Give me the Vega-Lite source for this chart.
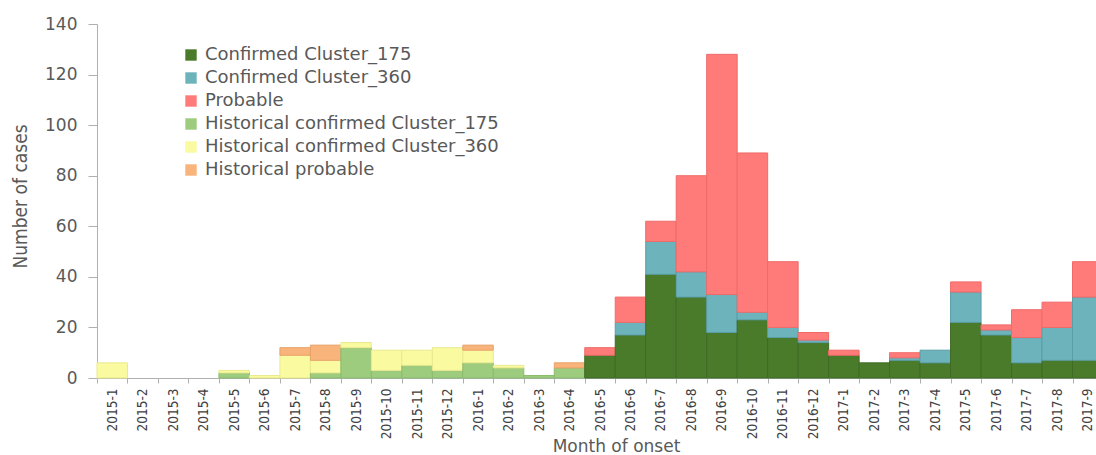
{
  "$schema": "https://vega.github.io/schema/vega-lite/v6.json",
  "width": 1006,
  "height": 354,
  "autosize": {"type": "none"},
  "padding": {"left": 97, "top": 24, "right": -7, "bottom": 77},
  "background": "white",
  "config": {"view": {"stroke": null}},
  "data": {
    "values": [
      {"month": "2015-1", "series": "Historical confirmed Cluster_360", "n": 6},
      {"month": "2015-5", "series": "Historical confirmed Cluster_175", "n": 2},
      {"month": "2015-5", "series": "Historical confirmed Cluster_360", "n": 1},
      {"month": "2015-6", "series": "Historical confirmed Cluster_360", "n": 1},
      {"month": "2015-7", "series": "Historical confirmed Cluster_360", "n": 9},
      {"month": "2015-7", "series": "Historical probable", "n": 3},
      {"month": "2015-8", "series": "Historical confirmed Cluster_175", "n": 2},
      {"month": "2015-8", "series": "Historical confirmed Cluster_360", "n": 5},
      {"month": "2015-8", "series": "Historical probable", "n": 6},
      {"month": "2015-9", "series": "Historical confirmed Cluster_175", "n": 12},
      {"month": "2015-9", "series": "Historical confirmed Cluster_360", "n": 2},
      {"month": "2015-10", "series": "Historical confirmed Cluster_175", "n": 3},
      {"month": "2015-10", "series": "Historical confirmed Cluster_360", "n": 8},
      {"month": "2015-11", "series": "Historical confirmed Cluster_175", "n": 5},
      {"month": "2015-11", "series": "Historical confirmed Cluster_360", "n": 6},
      {"month": "2015-12", "series": "Historical confirmed Cluster_175", "n": 3},
      {"month": "2015-12", "series": "Historical confirmed Cluster_360", "n": 9},
      {"month": "2016-1", "series": "Historical confirmed Cluster_175", "n": 6},
      {"month": "2016-1", "series": "Historical confirmed Cluster_360", "n": 5},
      {"month": "2016-1", "series": "Historical probable", "n": 2},
      {"month": "2016-2", "series": "Historical confirmed Cluster_175", "n": 4},
      {"month": "2016-2", "series": "Historical confirmed Cluster_360", "n": 1},
      {"month": "2016-3", "series": "Historical confirmed Cluster_175", "n": 1},
      {"month": "2016-4", "series": "Historical confirmed Cluster_175", "n": 4},
      {"month": "2016-4", "series": "Historical probable", "n": 2},
      {"month": "2016-5", "series": "Confirmed Cluster_175", "n": 9},
      {"month": "2016-5", "series": "Probable", "n": 3},
      {"month": "2016-6", "series": "Confirmed Cluster_175", "n": 17},
      {"month": "2016-6", "series": "Confirmed Cluster_360", "n": 5},
      {"month": "2016-6", "series": "Probable", "n": 10},
      {"month": "2016-7", "series": "Confirmed Cluster_175", "n": 41},
      {"month": "2016-7", "series": "Confirmed Cluster_360", "n": 13},
      {"month": "2016-7", "series": "Probable", "n": 8},
      {"month": "2016-8", "series": "Confirmed Cluster_175", "n": 32},
      {"month": "2016-8", "series": "Confirmed Cluster_360", "n": 10},
      {"month": "2016-8", "series": "Probable", "n": 38},
      {"month": "2016-9", "series": "Confirmed Cluster_175", "n": 18},
      {"month": "2016-9", "series": "Confirmed Cluster_360", "n": 15},
      {"month": "2016-9", "series": "Probable", "n": 95},
      {"month": "2016-10", "series": "Confirmed Cluster_175", "n": 23},
      {"month": "2016-10", "series": "Confirmed Cluster_360", "n": 3},
      {"month": "2016-10", "series": "Probable", "n": 63},
      {"month": "2016-11", "series": "Confirmed Cluster_175", "n": 16},
      {"month": "2016-11", "series": "Confirmed Cluster_360", "n": 4},
      {"month": "2016-11", "series": "Probable", "n": 26},
      {"month": "2016-12", "series": "Confirmed Cluster_175", "n": 14},
      {"month": "2016-12", "series": "Confirmed Cluster_360", "n": 1},
      {"month": "2016-12", "series": "Probable", "n": 3},
      {"month": "2017-1", "series": "Confirmed Cluster_175", "n": 9},
      {"month": "2017-1", "series": "Probable", "n": 2},
      {"month": "2017-2", "series": "Confirmed Cluster_175", "n": 6},
      {"month": "2017-3", "series": "Confirmed Cluster_175", "n": 7},
      {"month": "2017-3", "series": "Confirmed Cluster_360", "n": 1},
      {"month": "2017-3", "series": "Probable", "n": 2},
      {"month": "2017-4", "series": "Confirmed Cluster_175", "n": 6},
      {"month": "2017-4", "series": "Confirmed Cluster_360", "n": 5},
      {"month": "2017-5", "series": "Confirmed Cluster_175", "n": 22},
      {"month": "2017-5", "series": "Confirmed Cluster_360", "n": 12},
      {"month": "2017-5", "series": "Probable", "n": 4},
      {"month": "2017-6", "series": "Confirmed Cluster_175", "n": 17},
      {"month": "2017-6", "series": "Confirmed Cluster_360", "n": 2},
      {"month": "2017-6", "series": "Probable", "n": 2},
      {"month": "2017-7", "series": "Confirmed Cluster_175", "n": 6},
      {"month": "2017-7", "series": "Confirmed Cluster_360", "n": 10},
      {"month": "2017-7", "series": "Probable", "n": 11},
      {"month": "2017-8", "series": "Confirmed Cluster_175", "n": 7},
      {"month": "2017-8", "series": "Confirmed Cluster_360", "n": 13},
      {"month": "2017-8", "series": "Probable", "n": 10},
      {"month": "2017-9", "series": "Confirmed Cluster_175", "n": 7},
      {"month": "2017-9", "series": "Confirmed Cluster_360", "n": 25},
      {"month": "2017-9", "series": "Probable", "n": 14}
    ]
  },
  "transform": [
    {"calculate": "indexof(['Confirmed Cluster_175','Confirmed Cluster_360','Probable','Historical confirmed Cluster_175','Historical confirmed Cluster_360','Historical probable'], datum.series)", "as": "ord"}
  ],
  "mark": {"type": "bar", "strokeWidth": 1},
  "encoding": {
    "x": {
      "field": "month",
      "type": "nominal",
      "scale": {
        "domain": ["2015-1","2015-2","2015-3","2015-4","2015-5","2015-6","2015-7","2015-8","2015-9","2015-10","2015-11","2015-12","2016-1","2016-2","2016-3","2016-4","2016-5","2016-6","2016-7","2016-8","2016-9","2016-10","2016-11","2016-12","2017-1","2017-2","2017-3","2017-4","2017-5","2017-6","2017-7","2017-8","2017-9"],
        "paddingInner": 0,
        "paddingOuter": 0
      },
      "axis": {
        "title": "Month of onset",
        "titleFont": "DejaVu Sans",
        "titleFontSize": 17,
        "titleFontWeight": "normal",
        "titleColor": "#595959",
        "titleX": 519,
        "titleY": 73,
        "titleAlign": "center",
        "titleBaseline": "alphabetic",
        "labelAngle": -90,
        "labelFont": "Liberation Sans Narrow, DejaVu Sans Condensed, sans-serif",
        "labelFontSize": 13.5,
        "labelColor": "#404040",
        "labelPadding": 5,
        "labelOverlap": false,
        "tickBand": "extent",
        "tickSize": 5,
        "tickColor": "#b0b0b0",
        "domainColor": "#b0b0b0",
        "grid": false
      }
    },
    "y": {
      "field": "n",
      "type": "quantitative",
      "stack": "zero",
      "scale": {"domain": [0, 140], "nice": false},
      "axis": {
        "title": "Number of cases",
        "titleFont": "Liberation Sans Narrow, DejaVu Sans Condensed, sans-serif",
        "titleFontSize": 19,
        "titleFontWeight": "normal",
        "titleColor": "#595959",
        "titleAngle": 270,
        "titleX": -86,
        "titleY": 172,
        "titleAlign": "center",
        "titleBaseline": "top",
        "values": [0, 20, 40, 60, 80, 100, 120, 140],
        "labelFont": "DejaVu Sans",
        "labelFontSize": 17,
        "labelColor": "#595959",
        "labelPadding": 11,
        "tickSize": 9,
        "tickColor": "#b0b0b0",
        "domainColor": "#b0b0b0",
        "grid": false
      }
    },
    "color": {
      "field": "series",
      "type": "nominal",
      "scale": {
        "domain": ["Confirmed Cluster_175","Confirmed Cluster_360","Probable","Historical confirmed Cluster_175","Historical confirmed Cluster_360","Historical probable"],
        "range": ["#4a7b2b","#6cb3bc","#ff7b79","#9dcc7e","#fafaa0","#f9b47b"]
      },
      "legend": {
        "orient": "none",
        "legendX": 85,
        "legendY": 22,
        "title": null,
        "padding": 0,
        "symbolType": "square",
        "symbolSize": 130,
        "symbolStrokeWidth": 0,
        "labelFont": "DejaVu Sans",
        "labelFontSize": 18,
        "labelColor": "#595959",
        "labelOffset": 5,
        "labelLimit": 400,
        "rowPadding": 5
      }
    },
    "stroke": {
      "field": "series",
      "type": "nominal",
      "scale": {
        "domain": ["Confirmed Cluster_175","Confirmed Cluster_360","Probable","Historical confirmed Cluster_175","Historical confirmed Cluster_360","Historical probable"],
        "range": ["#3f6a24","#5a9ea7","#ee6b69","#8cbb6e","#e9e98f","#e8a36b"]
      },
      "legend": null
    },
    "order": {"field": "ord", "type": "quantitative"}
  }
}
